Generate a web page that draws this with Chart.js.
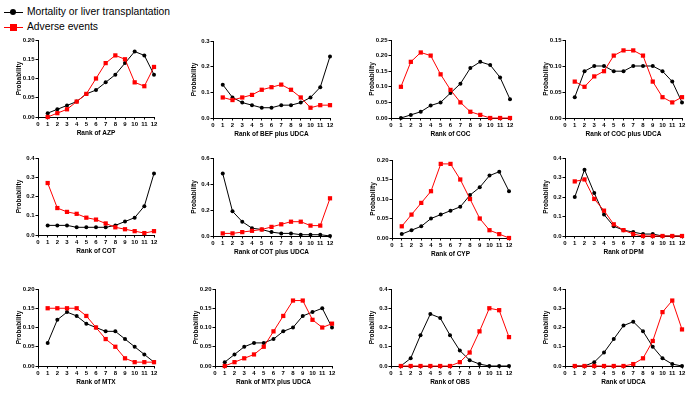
<!DOCTYPE html>
<html>
<head>
<meta charset="utf-8">
<script src="https://cdn.jsdelivr.net/npm/chart.js@4.4.0/dist/chart.umd.min.js"></script>
<style>
  body { margin: 0; background: #fff; width: 700px; height: 393px; overflow: hidden; position: relative;
         font-family: "Liberation Sans", Arial, sans-serif; }
  canvas { position: absolute; }
  .lg { position: absolute; left: 0; height: 14px; width: 200px; font-size: 10.3px; color: #000; }
  .lg .ln { position: absolute; left: 4px; top: 7px; width: 19px; height: 1px; }
  .lg .mk { position: absolute; }
  .lg span { position: absolute; left: 27px; top: 0; line-height: 14px; white-space: nowrap; }
</style>
</head>
<body>
<div class="lg" style="top:5px">
  <div class="ln" style="background:#000"></div>
  <div class="mk" style="left:10px;top:4px;width:6px;height:6px;border-radius:50%;background:#000"></div>
  <span>Mortality or liver transplantation</span>
</div>
<div class="lg" style="top:20px">
  <div class="ln" style="background:#ff0000"></div>
  <div class="mk" style="left:10px;top:4px;width:7px;height:7px;background:#ff0000"></div>
  <span>Adverse events</span>
</div>

<script>
// ranks 1..12
const ranks = [1, 2, 3, 4, 5, 6, 7, 8, 9, 10, 11, 12];

// mortality or liver transplantation (black) / adverse events (red)
const azpMort = [0.01, 0.02, 0.03, 0.04, 0.06, 0.07, 0.09, 0.11, 0.14, 0.17, 0.16, 0.11];
const azpAe   = [0.00, 0.01, 0.02, 0.04, 0.06, 0.10, 0.14, 0.16, 0.15, 0.09, 0.08, 0.13];

const befMort = [0.13, 0.08, 0.06, 0.05, 0.04, 0.04, 0.05, 0.05, 0.06, 0.08, 0.12, 0.24];
const befAe   = [0.08, 0.07, 0.08, 0.09, 0.11, 0.12, 0.13, 0.11, 0.08, 0.04, 0.05, 0.05];

const cocMort = [0.00, 0.01, 0.02, 0.04, 0.05, 0.08, 0.11, 0.16, 0.18, 0.17, 0.13, 0.06];
const cocAe   = [0.10, 0.18, 0.21, 0.20, 0.14, 0.09, 0.05, 0.02, 0.01, 0.00, 0.00, 0.00];

const cocuMort = [0.04, 0.09, 0.10, 0.10, 0.09, 0.09, 0.10, 0.10, 0.10, 0.09, 0.07, 0.03];
const cocuAe   = [0.07, 0.06, 0.08, 0.09, 0.12, 0.13, 0.13, 0.12, 0.07, 0.04, 0.03, 0.04];

const cotMort = [0.05, 0.05, 0.05, 0.04, 0.04, 0.04, 0.04, 0.05, 0.07, 0.09, 0.15, 0.32];
const cotAe   = [0.27, 0.14, 0.12, 0.11, 0.09, 0.08, 0.06, 0.04, 0.03, 0.02, 0.01, 0.02];

const cotuMort = [0.48, 0.19, 0.11, 0.06, 0.05, 0.03, 0.02, 0.02, 0.01, 0.01, 0.01, 0.00];
const cotuAe   = [0.02, 0.02, 0.03, 0.04, 0.05, 0.07, 0.09, 0.11, 0.11, 0.08, 0.08, 0.29];

const cypMort = [0.01, 0.02, 0.03, 0.05, 0.06, 0.07, 0.08, 0.11, 0.13, 0.16, 0.17, 0.12];
const cypAe   = [0.03, 0.06, 0.09, 0.12, 0.19, 0.19, 0.15, 0.10, 0.05, 0.02, 0.01, 0.00];

const dpmMort = [0.20, 0.34, 0.22, 0.11, 0.05, 0.03, 0.02, 0.01, 0.01, 0.00, 0.00, 0.00];
const dpmAe   = [0.28, 0.29, 0.19, 0.13, 0.06, 0.03, 0.01, 0.00, 0.00, 0.00, 0.00, 0.00];

const mtxMort = [0.06, 0.12, 0.14, 0.13, 0.11, 0.10, 0.09, 0.09, 0.07, 0.05, 0.03, 0.01];
const mtxAe   = [0.15, 0.15, 0.15, 0.15, 0.13, 0.10, 0.07, 0.05, 0.02, 0.01, 0.01, 0.01];

const mtxuMort = [0.01, 0.03, 0.05, 0.06, 0.06, 0.07, 0.09, 0.10, 0.13, 0.14, 0.15, 0.10];
const mtxuAe   = [0.00, 0.01, 0.02, 0.03, 0.05, 0.09, 0.13, 0.17, 0.17, 0.12, 0.10, 0.11];

const obsMort = [0.00, 0.04, 0.16, 0.27, 0.25, 0.16, 0.08, 0.03, 0.01, 0.00, 0.00, 0.00];
const obsAe   = [0.00, 0.00, 0.00, 0.00, 0.00, 0.00, 0.02, 0.07, 0.18, 0.30, 0.29, 0.15];

const udcaMort = [0.00, 0.00, 0.02, 0.07, 0.14, 0.21, 0.23, 0.18, 0.10, 0.04, 0.01, 0.00];
const udcaAe   = [0.00, 0.00, 0.00, 0.00, 0.00, 0.00, 0.01, 0.04, 0.13, 0.28, 0.34, 0.19];

// panel layout: plot area edges in page pixels, y axis max/step
const panels = [
  { title: 'Rank of AZP',           mort: azpMort,  ae: azpAe,  ymax: 0.20, step: 0.05, l: 38,  r: 154, t: 40,  b: 117 },
  { title: 'Rank of BEF plus UDCA', mort: befMort,  ae: befAe,  ymax: 0.3,  step: 0.1,  l: 213, r: 330, t: 41,  b: 118 },
  { title: 'Rank of COC',           mort: cocMort,  ae: cocAe,  ymax: 0.25, step: 0.05, l: 391, r: 510, t: 40,  b: 118 },
  { title: 'Rank of COC plus UDCA', mort: cocuMort, ae: cocuAe, ymax: 0.15, step: 0.05, l: 565, r: 682, t: 40,  b: 118 },
  { title: 'Rank of COT',           mort: cotMort,  ae: cotAe,  ymax: 0.4,  step: 0.1,  l: 38,  r: 154, t: 158, b: 235 },
  { title: 'Rank of COT plus UDCA', mort: cotuMort, ae: cotuAe, ymax: 0.6,  step: 0.2,  l: 213, r: 330, t: 158, b: 236 },
  { title: 'Rank of CYP',           mort: cypMort,  ae: cypAe,  ymax: 0.20, step: 0.05, l: 392, r: 509, t: 160, b: 238 },
  { title: 'Rank of DPM',           mort: dpmMort,  ae: dpmAe,  ymax: 0.4,  step: 0.1,  l: 565, r: 682, t: 158, b: 236 },
  { title: 'Rank of MTX',           mort: mtxMort,  ae: mtxAe,  ymax: 0.20, step: 0.05, l: 38,  r: 154, t: 289, b: 366 },
  { title: 'Rank of MTX plus UDCA', mort: mtxuMort, ae: mtxuAe, ymax: 0.20, step: 0.05, l: 215, r: 332, t: 289, b: 366 },
  { title: 'Rank of OBS',           mort: obsMort,  ae: obsAe,  ymax: 0.4,  step: 0.1,  l: 391, r: 509, t: 289, b: 366 },
  { title: 'Rank of UDCA',          mort: udcaMort, ae: udcaAe, ymax: 0.4,  step: 0.1,  l: 565, r: 682, t: 289, b: 366 },
];

Chart.defaults.font.family = '"Liberation Sans", Arial, sans-serif';
Chart.defaults.color = '#000';

const Y_W = 25, X_H = 22, PAD_T = 8, PAD_R = 8, PAD_B = 2;
const tickFont = { size: 6, weight: 'bold' };
const titleFont = { size: 6.5, weight: 'bold' };

function toPoints(vals) {
  return ranks.map((r, i) => ({ x: r, y: vals[i] }));
}

panels.forEach(p => {
  const cv = document.createElement('canvas');
  const left = p.l - 38;
  const top = p.t - PAD_T;
  const w = p.r - left + PAD_R;
  const h = (p.b - p.t) + PAD_T + X_H + PAD_B;
  cv.width = w; cv.height = h;
  cv.style.left = left + 'px'; cv.style.top = top + 'px';
  cv.style.width = w + 'px'; cv.style.height = h + 'px';
  document.body.appendChild(cv);

  const dec = p.step < 0.1 ? 2 : 1;

  new Chart(cv, {
    type: 'line',
    data: {
      datasets: [
        {
          label: 'Adverse events',
          data: toPoints(p.ae),
          borderColor: '#ff0000', backgroundColor: '#ff0000', borderWidth: 1,
          pointStyle: 'rect', pointRadius: 3, pointBorderWidth: 0,
          tension: 0, clip: false, order: 0,
        },
        {
          label: 'Mortality or liver transplantation',
          data: toPoints(p.mort),
          borderColor: '#000', backgroundColor: '#000', borderWidth: 1,
          pointStyle: 'circle', pointRadius: 2, pointBorderWidth: 0,
          tension: 0, clip: false, order: 1,
        },
      ],
    },
    options: {
      responsive: false,
      animation: false,
      devicePixelRatio: 1,
      layout: { padding: { left: 38 - Y_W, right: PAD_R, top: PAD_T, bottom: PAD_B } },
      plugins: { legend: { display: false }, tooltip: { enabled: false } },
      scales: {
        x: {
          type: 'linear', min: 0, max: 12,
          afterFit: s => { s.height = X_H; },
          grid: { display: true, drawOnChartArea: false, drawTicks: true, tickLength: 2.5, tickColor: '#000' },
          border: { display: true, color: '#000', width: 1 },
          ticks: { stepSize: 1, autoSkip: false, maxRotation: 0, padding: 1.5, font: tickFont, color: '#000' },
          title: { display: true, text: p.title, font: titleFont, color: '#000', padding: { top: 0, bottom: 2 } },
        },
        y: {
          min: 0, max: p.ymax,
          afterFit: s => { s.width = Y_W; },
          grid: { display: true, drawOnChartArea: false, drawTicks: true, tickLength: 2.5, tickColor: '#000' },
          border: { display: true, color: '#000', width: 1 },
          ticks: { stepSize: p.step, padding: 1, font: tickFont, color: '#000',
                   callback: v => Number(v).toFixed(dec) },
          title: { display: true, text: 'Probability', font: titleFont, color: '#000', padding: { top: 2, bottom: 0 } },
        },
      },
    },
  });
});
</script>
</body>
</html>
